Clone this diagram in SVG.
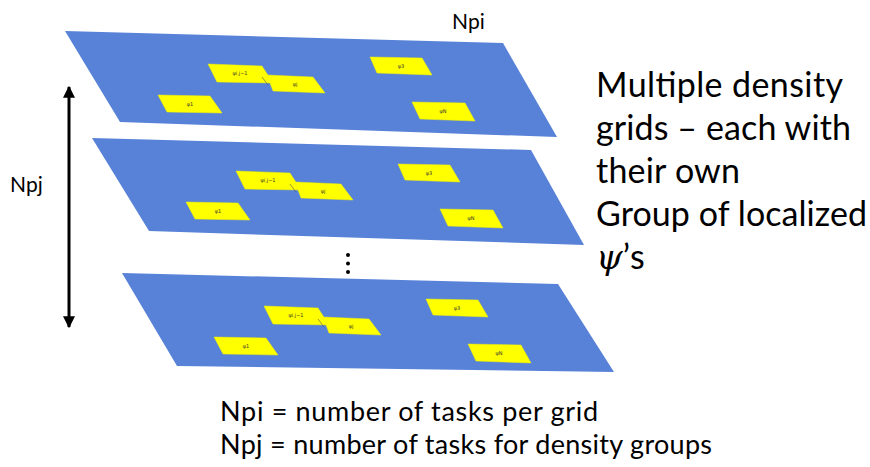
<svg xmlns="http://www.w3.org/2000/svg" xmlns:xlink="http://www.w3.org/1999/xlink" width="870" height="467" viewBox="0 0 870 467">
<style>
.plane{fill:#5882d8}
.task{fill:#ffff00;stroke:#f0f000;stroke-width:0.5}
.tl{font-family:"DejaVu Sans",sans-serif;font-size:5px;fill:#333;text-anchor:middle}
.lbl{font-family:Lato,"Liberation Sans",sans-serif;fill:#000}
.big{font-size:34px}
.mid{font-size:27px}
.sm{font-size:21px}
.psi{font-family:"DejaVu Serif",serif;font-style:italic}
</style>
<defs>
<marker id="ah" viewBox="0 0 10 10" refX="9" refY="5" markerWidth="4" markerHeight="4" orient="auto-start-reverse">
<path d="M0,0 L10,5 L0,10 z" fill="#000"/>
</marker>
<g id="tasks">
<polygon class="task" points="158,95 210,96 222,113 167,112"/>
<text class="tl" x="190" y="106">ψ1</text>
<polygon class="task" points="208,64 262,66 273,83 217,82"/>
<text class="tl" x="240" y="75">ψi,j−1</text>
<polygon class="task" points="267,75 313,77 325,93 273,91"/>
<text class="tl" x="295" y="86">ψj</text>
<line x1="262" y1="77" x2="268" y2="85" stroke="#555" stroke-width="0.6"/>
<polygon class="task" points="370,57 422,58 432,75 377,73"/>
<text class="tl" x="401" y="68">ψ3</text>
<polygon class="task" points="412,102 465,103 475,121 420,119"/>
<text class="tl" x="443" y="113">ψN</text>
</g>
</defs>

<g id="grid1">
<polygon class="plane" points="65,31 503,43 557,137 120,122"/>
<use xlink:href="#tasks"/>
</g>
<g id="grid2">
<polygon class="plane" points="92,138 531,150 584,245 149,231"/>
<use xlink:href="#tasks" transform="translate(28,107)"/>
</g>
<g id="grid3">
<polygon class="plane" points="122,273 558,284 614,372 177,366"/>
<use xlink:href="#tasks" transform="translate(56,242)"/>
</g>

<g id="ellipsis">
<circle cx="348" cy="255" r="2" fill="#000"/>
<circle cx="348" cy="263.5" r="2" fill="#000"/>
<circle cx="348" cy="272" r="2" fill="#000"/>
</g>

<g id="connectors">
<line x1="69" y1="87" x2="69" y2="327" stroke="#000" stroke-width="3" marker-start="url(#ah)" marker-end="url(#ah)"/>
</g>

<g id="labels">
<text class="lbl sm" x="452" y="29">Npi</text>
<text class="lbl sm" x="10" y="192">Npj</text>
<text class="lbl big" x="596" y="97" textLength="247">Multiple density</text>
<text class="lbl big" x="596" y="140" textLength="255">grids – each with</text>
<text class="lbl big" x="596" y="183" textLength="144">their own</text>
<text class="lbl big" x="596" y="226" textLength="271">Group of localized</text>
<text class="lbl big" x="596" y="269"><tspan class="psi">ψ</tspan>’s</text>
<text class="lbl mid" x="220" y="421" textLength="378">Npi = number of tasks per grid</text>
<text class="lbl mid" x="220" y="454" textLength="492">Npj = number of tasks for density groups</text>
</g>
</svg>
